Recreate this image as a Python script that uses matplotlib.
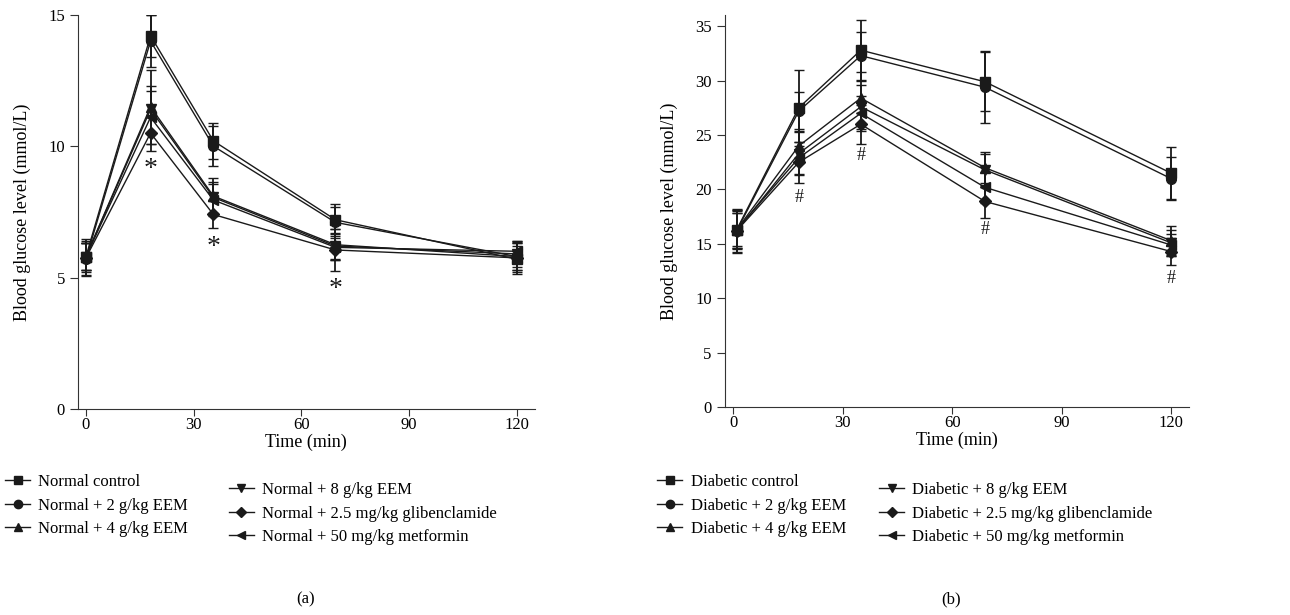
import matplotlib
matplotlib.use("Agg")
from matplotlib import pyplot as plt
from matplotlib.lines import Line2D

plt.rcParams['font.family'] = ['Liberation Serif', 'DejaVu Serif']
plt.rcParams['font.size'] = 12

# x positions of the points
times_a = [0, 18, 35.5, 69.5, 120]
times_b = [1, 18, 35, 69, 120]
xticks = [0, 30, 60, 90, 120]

labels_a = ['Normal control', 'Normal + 2 g/kg EEM', 'Normal + 4 g/kg EEM',
            'Normal + 8 g/kg EEM', 'Normal + 2.5 mg/kg glibenclamide',
            'Normal + 50 mg/kg metformin']
labels_b = ['Diabetic control', 'Diabetic + 2 g/kg EEM', 'Diabetic + 4 g/kg EEM',
            'Diabetic + 8 g/kg EEM', 'Diabetic + 2.5 mg/kg glibenclamide',
            'Diabetic + 50 mg/kg metformin']
markers = ['s', 'o', '^', 'v', 'D', '<']

# panel (a): normal rats
n_control = [5.8, 14.2, 10.2, 7.2, 5.7]
n_2g = [5.7, 14.0, 10.0, 7.1, 5.8]
n_4g = [5.8, 11.5, 8.1, 6.25, 5.8]
n_8g = [5.8, 11.4, 8.05, 6.2, 5.9]
n_glib = [5.75, 10.5, 7.4, 6.05, 5.75]
n_metf = [5.8, 11.1, 7.95, 6.15, 6.0]
n_control_err = [0.5, 0.8, 0.7, 0.6, 0.5]
n_2g_err = [0.6, 1.0, 0.75, 0.6, 0.5]
n_4g_err = [0.6, 1.4, 0.7, 0.6, 0.5]
n_8g_err = [0.5, 0.9, 0.6, 0.5, 0.5]
n_glib_err = [0.7, 0.7, 0.5, 0.8, 0.6]
n_metf_err = [0.5, 1.0, 0.6, 0.5, 0.4]
stars_x = [18, 35.5, 69.5]
stars_y = [9.1, 6.15, 4.55]

# panel (b): diabetic rats
d_control = [16.3, 27.5, 32.8, 29.9, 21.5]
d_2g = [16.2, 27.2, 32.3, 29.4, 21.0]
d_4g = [16.3, 24.0, 28.4, 22.0, 15.3]
d_8g = [16.2, 23.3, 27.6, 21.8, 15.1]
d_glib = [16.2, 22.5, 26.0, 18.9, 14.3]
d_metf = [16.3, 22.9, 27.0, 20.2, 14.9]
d_control_err = [1.8, 3.5, 2.8, 2.7, 2.4]
d_2g_err = [2.0, 1.8, 2.2, 3.3, 2.0]
d_4g_err = [1.5, 1.6, 2.4, 1.4, 1.3]
d_8g_err = [1.6, 2.0, 2.0, 1.5, 1.2]
d_glib_err = [1.9, 1.9, 1.8, 1.5, 1.2]
d_metf_err = [1.7, 1.5, 1.6, 1.4, 1.0]
hash_x = [18, 35, 69, 120]
hash_y = [19.3, 23.1, 16.3, 11.8]

col = '#1a1a1a'


def msize(m):
    return 6.0 if m == 'D' else 7.0


def panel(ax, times, series, errs, labels, ymax, yticks):
    for y, e, m, lab in zip(series, errs, markers, labels):
        ax.errorbar(times, y, yerr=e, color=col, marker=m, markersize=msize(m),
                    linewidth=1.0, elinewidth=1.3, capsize=3.5, capthick=1.0)
    ax.set_xlim(-2.2, 125)
    ax.set_ylim(0, ymax)
    ax.set_xticks(xticks)
    ax.set_yticks(yticks)
    for s in ['top', 'right']:
        ax.spines[s].set_visible(False)
    for s in ['left', 'bottom']:
        ax.spines[s].set_color('#333333')
    ax.tick_params(direction='out', length=6, color='#333333', labelsize=12)
    ax.tick_params(axis='x', length=5, pad=1)
    ax.set_xlabel('Time (min)', fontsize=13, labelpad=0)
    ax.set_ylabel('Blood glucose level (mmol/L)', fontsize=13, labelpad=12)
    # legend handles: line with marker only, no error bars
    return [Line2D([], [], color=col, marker=m, markersize=msize(m) - 1, linewidth=1.0)
            for m in markers]


fig = plt.figure(figsize=(12.9, 6.15), dpi=100)
ax1 = fig.add_axes([0.0605, 0.335, 0.354, 0.641])
ax2 = fig.add_axes([0.562, 0.338, 0.36, 0.637])

h1 = panel(ax1, times_a, [n_control, n_2g, n_4g, n_8g, n_glib, n_metf],
           [n_control_err, n_2g_err, n_4g_err, n_8g_err, n_glib_err, n_metf_err],
           labels_a, 15, [0, 5, 10, 15])
for x, y in zip(stars_x, stars_y):
    ax1.text(x, y, '*', ha='center', va='center', fontsize=20, color=col)

h2 = panel(ax2, times_b, [d_control, d_2g, d_4g, d_8g, d_glib, d_metf],
           [d_control_err, d_2g_err, d_4g_err, d_8g_err, d_glib_err, d_metf_err],
           labels_b, 36, [0, 5, 10, 15, 20, 25, 30, 35])
for x, y in zip(hash_x, hash_y):
    ax2.text(x, y, '#', ha='center', va='center', fontsize=13, color=col)

# legends below each panel, two columns slightly offset
leg_kw = dict(frameon=False, fontsize=12, handlelength=1.5, handletextpad=0.5,
              labelspacing=0.45, borderaxespad=0, borderpad=0)
fig.legend(h1[:3], labels_a[:3], loc='upper left', bbox_to_anchor=(0.004, 0.229), **leg_kw)
fig.legend(h1[3:], labels_a[3:], loc='upper left', bbox_to_anchor=(0.1773, 0.216), **leg_kw)
fig.legend(h2[:3], labels_b[:3], loc='upper left', bbox_to_anchor=(0.5095, 0.229), **leg_kw)
fig.legend(h2[3:], labels_b[3:], loc='upper left', bbox_to_anchor=(0.6814, 0.216), **leg_kw)

fig.text(0.237, 0.025, '(a)', ha='center', va='center', fontsize=12)
fig.text(0.737, 0.025, '(b)', ha='center', va='center', fontsize=12)

plt.savefig('out.png', dpi=100)
